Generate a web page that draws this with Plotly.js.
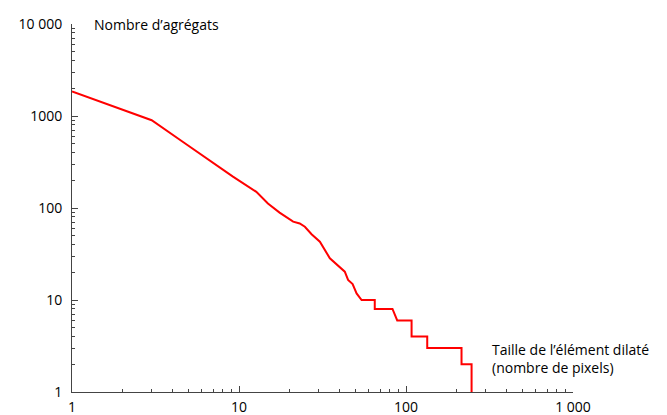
<!DOCTYPE html>
<html>
<head>
<meta charset="utf-8">
<script src="https://cdn.plot.ly/plotly-3.0.1.min.js"></script>
<style>html,body{margin:0;padding:0;background:#fff;}#chart{width:667px;height:415px;}</style>
</head>
<body>
<div id="chart"></div>
<script>
// Size of dilated element (number of pixels)
var tailles = [1, 3, 4.6, 7.3, 9.2, 12.7, 14.9, 17.5, 18.4, 21.1, 23.1, 24.8, 27.2, 30.5, 35, 39.2, 43, 45, 47.9, 50.6, 54.2, 65, 65, 83, 85.8, 88.6, 108, 108, 134, 134, 215, 215, 247, 247];
// Number of aggregates
var nombres = [1850, 900, 525, 293, 219, 150, 112, 89, 84, 71, 68, 62.6, 51.8, 43, 28.4, 23.4, 20.3, 16.5, 14.9, 11.8, 10, 10, 8, 8, 7, 6, 6, 4, 4, 3, 3, 2, 2, 1];

var xTickVals = [1, 10, 100, 1000];
var xTickText = ["1", "10", "100", "1 000"];
var yTickVals = [1, 10, 100, 1000, 10000];
var yTickText = ["1", "10", "100", "1000", "10 000"];
var titreY = "Nombre d’agrégats";
var titreX = "Taille de l’élément dilaté<br>(nombre de pixels)";

function minorVals(maxDecade) {
  var v = [];
  for (var d = 0; d < maxDecade; d++) {
    for (var k = 2; k <= 9; k++) v.push(k * Math.pow(10, d));
  }
  return v;
}

var FONT = "Open Sans, sans-serif";

var trace = {
  x: tailles, y: nombres, type: "scatter", mode: "lines",
  line: {color: "#ff0000", width: 2},
  hoverinfo: "x+y"
};

var axisCommon = {
  type: "log",
  showgrid: false, zeroline: false,
  showline: true, linecolor: "#444", linewidth: 1,
  ticks: "inside", ticklen: 6, tickcolor: "#444", tickwidth: 1,
  tickmode: "array",
  tickfont: {family: FONT, size: 14, color: "#000"}
};

var layout = {
  width: 667, height: 415,
  margin: {l: 72, r: 94, t: 24, b: 23, pad: 0},
  paper_bgcolor: "#fff", plot_bgcolor: "#fff",
  showlegend: false,
  font: {family: FONT, size: 14, color: "#000"},
  xaxis: Object.assign({}, axisCommon, {
    range: [0, 3], tickvals: xTickVals, ticktext: xTickText,
    ticklabelstandoff: 2,
    minor: {tickmode: "array", tickvals: minorVals(3), ticks: "inside", ticklen: 3, tickcolor: "#444", tickwidth: 1, showgrid: false}
  }),
  yaxis: Object.assign({}, axisCommon, {
    range: [0, 4], tickvals: yTickVals, ticktext: yTickText,
    ticklabelstandoff: 6,
    minor: {tickmode: "array", tickvals: minorVals(4), ticks: "inside", ticklen: 3, tickcolor: "#444", tickwidth: 1, showgrid: false}
  }),
  annotations: [
    {text: titreY, xref: "paper", yref: "paper", x: 0.04, y: 1.0, xanchor: "left", yanchor: "middle", showarrow: false, align: "left", font: {family: FONT, size: 14, color: "#000"}},
    {text: titreX, xref: "paper", yref: "paper", x: 0.834, y: 0.09, xanchor: "left", yanchor: "middle", showarrow: false, align: "left", font: {family: FONT, size: 14, color: "#000"}}
  ]
};

Plotly.newPlot("chart", [trace], layout, {displayModeBar: false, staticPlot: true});
</script>
</body>
</html>
